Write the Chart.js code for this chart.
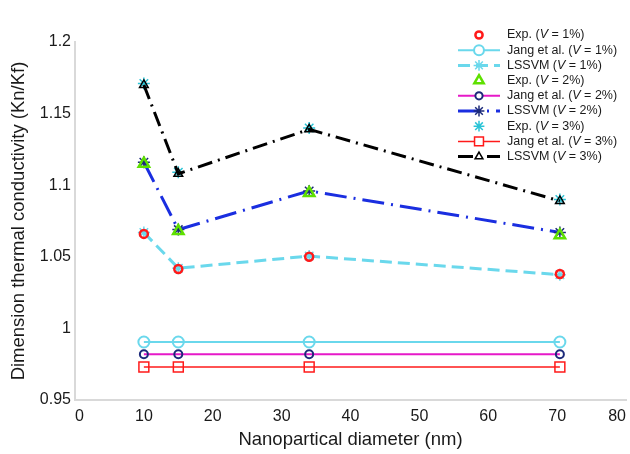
<!DOCTYPE html>
<html>
<head>
<meta charset="utf-8">
<script src="https://cdn.jsdelivr.net/npm/chart.js@4.4.0/dist/chart.umd.min.js"></script>
<style>
  body { margin: 0; background: #fff; }
</style>
</head>
<body>
<canvas id="chart" width="630" height="454"></canvas>
<script>
// nanoparticle diameters (nm)
const diameters = [10, 15, 34, 70.4];

// measured and predicted Kn/Kf, per volume fraction
const exp1 = [1.066, 1.0415, 1.050, 1.038];
const jang1 = [0.9905, 0.9905, 0.9905, 0.9905];
const lssvm1 = [1.067, 1.042, 1.0505, 1.0375];
const exp2 = [1.115, 1.068, 1.0946, 1.065];
const jang2 = [0.982, 0.982, 0.982, 0.982];
const lssvm2 = [1.116, 1.069, 1.096, 1.067];
const exp3 = [1.171, 1.109, 1.140, 1.090];
const jang3 = [0.973, 0.973, 0.973, 0.973];
const lssvm3 = [1.170, 1.108, 1.139, 1.089];

const seriesNames = ['Exp.', 'Jang et al.', 'LSSVM', 'Exp.', 'Jang et al.', 'LSSVM', 'Exp.', 'Jang et al.', 'LSSVM'];
const fractions = ['1%', '1%', '1%', '2%', '2%', '2%', '3%', '3%', '3%'];
const yTicks = [0.95, 1, 1.05, 1.1, 1.15, 1.2];

Chart.defaults.font.family = '"Liberation Sans", Arial, sans-serif';
Chart.defaults.color = '#1a1a1a';

function pts(vals) {
    return vals.map((v, i) => ({ x: diameters[i], y: v }));
}

function series(vals, opts) {
    return Object.assign({
        data: pts(vals),
        fill: false,
        tension: 0,
        pointHoverRadius: 0,
        backgroundColor: 'transparent',
        pointBackgroundColor: 'transparent'
    }, opts);
}

const datasets = [
    series(exp1, { showLine: false, pointStyle: 'circle', pointRadius: 4, pointBorderWidth: 2.5,
        borderColor: '#ff1a1a', pointBorderColor: '#ff1a1a', order: 1 }),
    series(jang1, { pointStyle: 'circle', pointRadius: 5.5, pointBorderWidth: 2, borderWidth: 2,
        borderColor: '#6ad8ec', pointBorderColor: '#6ad8ec', order: 5 }),
    series(lssvm1, { pointStyle: 'star', pointRadius: 6, pointBorderWidth: 1.5, borderWidth: 3,
        borderDash: [12, 6], borderColor: '#6ad8ec', pointBorderColor: '#6ad8ec', order: 6 }),
    series(exp2, { showLine: false, pointStyle: 'triangle', pointRadius: 6, pointBorderWidth: 2.5,
        borderColor: '#5ee000', pointBorderColor: '#5ee000', order: 2 }),
    series(jang2, { pointStyle: 'circle', pointRadius: 4, pointBorderWidth: 2, borderWidth: 2,
        borderColor: '#e619c8', pointBorderColor: '#1c2a7a', order: 5 }),
    series(lssvm2, { pointStyle: 'star', pointRadius: 6, pointBorderWidth: 1.5, borderWidth: 3,
        borderDash: [22, 7, 2, 7], borderColor: '#1a2ee0', pointBorderColor: '#1c2a7a', order: 4 }),
    series(exp3, { showLine: false, pointStyle: 'star', pointRadius: 6, pointBorderWidth: 1.5,
        borderColor: '#2bc4d6', pointBorderColor: '#2bc4d6', order: 3 }),
    series(jang3, { pointStyle: 'rect', pointRadius: 7, pointBorderWidth: 1.5, borderWidth: 1.5,
        borderColor: '#ff1a1a', pointBorderColor: '#ff1a1a', order: 5 }),
    series(lssvm3, { pointStyle: 'triangle', pointRadius: 5, pointBorderWidth: 1.5, borderWidth: 3,
        borderDash: [15, 6, 2, 6], borderColor: '#000', pointBorderColor: '#000', order: 2 })
];

// legend in the top right corner, with line samples and italic V
const figLegend = {
    id: 'figLegend',
    afterDraw(chart) {
        const ctx = chart.ctx;
        chart.data.datasets.forEach((ds, i) => {
            const y = 35 + i * 15.2;
            ctx.save();
            if (ds.showLine !== false) {
                ctx.strokeStyle = ds.borderColor;
                ctx.lineWidth = ds.borderWidth;
                ctx.setLineDash(ds.borderDash || []);
                ctx.beginPath();
                ctx.moveTo(458, y);
                ctx.lineTo(500, y);
                ctx.stroke();
            }
            ctx.setLineDash([]);
            ctx.strokeStyle = ds.pointBorderColor;
            ctx.fillStyle = '#fff';
            ctx.lineWidth = ds.pointBorderWidth;
            Chart.helpers.drawPoint(ctx, {
                pointStyle: ds.pointStyle,
                radius: ds.pointRadius * 0.9,
                borderWidth: ds.pointBorderWidth,
                rotation: 0
            }, 479, y);

            ctx.fillStyle = '#1a1a1a';
            ctx.textBaseline = 'middle';
            ctx.textAlign = 'left';
            const normal = '12.5px "Liberation Sans", Arial, sans-serif';
            const italic = 'italic 12.5px "Liberation Sans", Arial, sans-serif';
            let x = 507;
            const parts = [[seriesNames[i] + ' (', normal], ['V', italic], [' = ' + fractions[i] + ')', normal]];
            parts.forEach(([t, f]) => {
                ctx.font = f;
                ctx.fillText(t, x, y);
                x += ctx.measureText(t).width;
            });
            ctx.restore();
        });
    }
};

new Chart(document.getElementById('chart').getContext('2d'), {
    type: 'line',
    data: { datasets: datasets },
    options: {
        responsive: false,
        animation: false,
        layout: { autoPadding: false, padding: { top: 42, right: 4, left: 0, bottom: 0 } },
        plugins: {
            legend: { display: false },
            tooltip: { enabled: false }
        },
        scales: {
            x: {
                type: 'linear',
                min: 0,
                max: 80,
                grid: { display: false, drawTicks: false },
                border: { display: true, color: '#d9d9d9', width: 2 },
                ticks: { stepSize: 10, padding: 7, align: 'inner', font: { size: 16 } },
                title: {
                    display: true,
                    text: 'Nanopartical diameter (nm)',
                    font: { size: 18.5 },
                    padding: { top: 0, bottom: 3 }
                },
                afterFit(scale) {
                    scale.height = 54;
                    scale.paddingLeft = 0;
                    scale.paddingRight = 0;
                }
            },
            y: {
                min: 0.95,
                max: 1.2,
                grid: { display: false, drawTicks: false },
                border: { display: true, color: '#d9d9d9', width: 2 },
                afterBuildTicks(scale) {
                    scale.ticks = yTicks.map(v => ({ value: v }));
                },
                ticks: {
                    padding: 4,
                    font: { size: 16 },
                    callback: v => String(+v.toFixed(2))
                },
                title: {
                    display: true,
                    text: 'Dimension thermal conductivity (Kn/Kf)',
                    font: { size: 18.5 },
                    padding: { top: 8, bottom: 0 }
                },
                afterFit(scale) {
                    scale.width = 75;
                    scale.paddingTop = 0;
                    scale.paddingBottom = 0;
                }
            }
        }
    },
    plugins: [figLegend]
});
</script>
</body>
</html>
